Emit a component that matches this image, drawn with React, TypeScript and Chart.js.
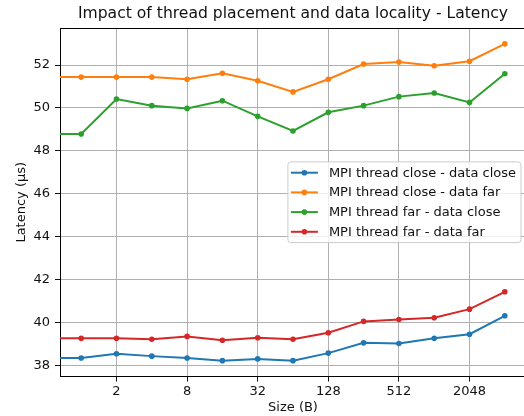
import React, { useEffect, useRef } from 'react';
import { Chart, registerables } from 'chart.js';

Chart.register(...registerables);

// Message sizes in bytes (0 is clipped off the log axis, as in the original)
const sizes = [0, 1, 2, 4, 8, 16, 32, 64, 128, 256, 512, 1024, 2048, 4096];

const threadCloseDataClose = [38.34, 38.34, 38.54, 38.43, 38.34, 38.22, 38.30, 38.22, 38.57, 39.05, 39.02, 39.26, 39.45, 40.31];
const threadCloseDataFar = [51.44, 51.44, 51.44, 51.44, 51.34, 51.62, 51.27, 50.75, 51.34, 52.05, 52.14, 51.97, 52.18, 52.99];
const threadFarDataClose = [48.79, 48.79, 50.42, 50.11, 49.98, 50.34, 49.61, 48.93, 49.80, 50.11, 50.53, 50.70, 50.26, 51.60];
const threadFarDataFar = [39.26, 39.26, 39.26, 39.22, 39.35, 39.17, 39.29, 39.22, 39.52, 40.05, 40.14, 40.22, 40.62, 41.43];

const seriesLabels = [
  'MPI thread close - data close',
  'MPI thread close - data far',
  'MPI thread far - data close',
  'MPI thread far - data far',
];
const seriesValues = [threadCloseDataClose, threadCloseDataFar, threadFarDataClose, threadFarDataFar];
const seriesColors = ['#1f77b4', '#ff7f0e', '#2ca02c', '#d62728'];

const xTickValues = [2, 8, 32, 128, 512, 2048];
const yTickValues = [38, 40, 42, 44, 46, 48, 50, 52];

const titleText = 'Impact of thread placement and data locality - Latency';
const xLabel = 'Size (B)';
const yLabel = 'Latency (µs)';

const FONT = '"DejaVu Sans", sans-serif';
const LOG_CLIP = 1e-9;

const decorPlugin = {
  id: 'decor',
  afterDraw(chart: any) {
    const { ctx, chartArea: a } = chart;
    ctx.save();
    // top & right spines
    ctx.strokeStyle = '#000';
    ctx.lineWidth = 1;
    ctx.beginPath();
    ctx.moveTo(a.left, a.top + 0.5);
    ctx.lineTo(a.right, a.top + 0.5);
    ctx.lineTo(a.right - 0.5, a.bottom);
    ctx.stroke();

    ctx.fillStyle = '#111';
    ctx.textAlign = 'center';
    ctx.textBaseline = 'middle';
    ctx.font = `15.6px ${FONT}`;
    ctx.fillText(titleText, (a.left + a.right) / 2, a.top - 14);

    ctx.font = `13px ${FONT}`;
    ctx.fillText(xLabel, (a.left + a.right) / 2, a.bottom + 31.5);

    ctx.save();
    ctx.translate(a.left - 38, (a.top + a.bottom) / 2);
    ctx.rotate(-Math.PI / 2);
    ctx.fillText(yLabel, 0, 0);
    ctx.restore();

    // legend (center right)
    ctx.font = `13px ${FONT}`;
    const datasets = chart.data.datasets;
    let maxW = 0;
    datasets.forEach((d: any) => {
      maxW = Math.max(maxW, ctx.measureText(d.label).width);
    });
    const rowH = 19.7;
    const padV = 10.8;
    const boxW = 41 + maxW + 5;
    const boxH = padV * 2 + rowH * (datasets.length - 1);
    const bx = a.right - 5 - boxW;
    const by = (a.top + a.bottom) / 2 - boxH / 2;
    ctx.beginPath();
    ctx.roundRect(bx, by, boxW, boxH, 3);
    ctx.fillStyle = 'rgba(255,255,255,0.8)';
    ctx.fill();
    ctx.strokeStyle = '#cccccc';
    ctx.lineWidth = 1;
    ctx.stroke();

    ctx.textAlign = 'left';
    ctx.textBaseline = 'middle';
    datasets.forEach((d: any, i: number) => {
      const y = by + padV + i * rowH;
      ctx.strokeStyle = d.borderColor;
      ctx.lineWidth = 2;
      ctx.beginPath();
      ctx.moveTo(bx + 3, y);
      ctx.lineTo(bx + 30, y);
      ctx.stroke();
      ctx.fillStyle = d.borderColor;
      ctx.beginPath();
      ctx.arc(bx + 16.5, y, 2.8, 0, Math.PI * 2);
      ctx.fill();
      ctx.fillStyle = '#111';
      ctx.fillText(d.label, bx + 41, y + 0.5);
    });
    ctx.restore();
  },
};

export default function App() {
  const canvasRef = useRef<HTMLCanvasElement | null>(null);

  useEffect(() => {
    document.body.style.margin = '0';
    document.body.style.overflow = 'hidden';
    const canvas = canvasRef.current;
    if (!canvas) return;

    const datasets = seriesValues.map((vals, i) => ({
      label: seriesLabels[i],
      data: sizes.map((s, j) => ({ x: s > 0 ? s : LOG_CLIP, y: vals[j] })),
      borderColor: seriesColors[i],
      backgroundColor: seriesColors[i],
      borderWidth: 2,
      pointRadius: 2.8,
      pointBorderWidth: 0,
      pointBackgroundColor: seriesColors[i],
      tension: 0,
      fill: false,
    }));

    const chart = new Chart(canvas, {
      type: 'line',
      data: { datasets },
      plugins: [decorPlugin],
      options: {
        animation: false,
        responsive: false,
        events: [],
        layout: { padding: { top: 28, right: 14, left: 0, bottom: 0 } },
        plugins: {
          legend: { display: false },
          tooltip: { enabled: false },
          title: { display: false },
        },
        scales: {
          x: {
            type: 'logarithmic',
            min: Math.pow(2, -0.6),
            max: Math.pow(2, 12.6),
            afterBuildTicks: (scale: any) => {
              scale.ticks = xTickValues.map((v) => ({ value: v }));
            },
            afterFit: (scale: any) => {
              scale.height = 39.5;
            },
            ticks: {
              autoSkip: false,
              maxRotation: 0,
              padding: 2,
              color: '#111',
              font: { family: FONT, size: 13 },
              callback: (v: any) => String(v),
            },
            grid: {
              color: '#b0b0b0',
              lineWidth: 1,
              tickLength: 5,
              tickColor: '#111',
            },
            border: { display: true, color: '#000', width: 1 },
          },
          y: {
            type: 'linear',
            min: 37.48,
            max: 53.73,
            afterBuildTicks: (scale: any) => {
              scale.ticks = yTickValues.map((v) => ({ value: v }));
            },
            afterFit: (scale: any) => {
              scale.width = 60;
            },
            ticks: {
              padding: 5,
              color: '#111',
              font: { family: FONT, size: 13 },
              callback: (v: any) => String(v),
            },
            grid: {
              color: '#b0b0b0',
              lineWidth: 1,
              tickLength: 5,
              tickColor: '#111',
            },
            border: { display: true, color: '#000', width: 1 },
          },
        },
      } as any,
    });

    return () => chart.destroy();
  }, []);

  return (
    <div
      style={{
        position: 'fixed',
        left: 0,
        top: 0,
        width: 524,
        height: 416,
        overflow: 'hidden',
        background: '#fff',
      }}
    >
      <canvas ref={canvasRef} width={540} height={416} style={{ display: 'block' }} />
    </div>
  );
}
